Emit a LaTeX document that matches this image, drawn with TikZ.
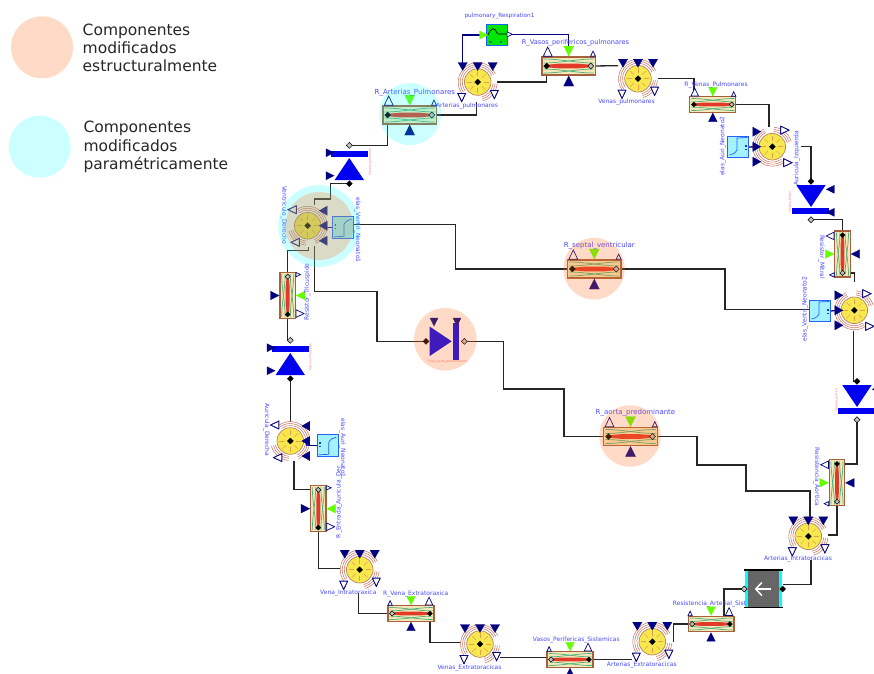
\documentclass[tikz,border=0pt]{standalone}
\usepackage{fontspec}
\setmainfont{DejaVu Sans}
\usetikzlibrary{backgrounds}

\definecolor{navyport}{HTML}{000080}
\definecolor{lblblue}{HTML}{4848FF}
\definecolor{ringred}{HTML}{C87868}
\definecolor{chamberyellow}{HTML}{F7E850}
\definecolor{spokeorange}{HTML}{E8A048}
\definecolor{boxcream}{HTML}{F6E8B8}
\definecolor{boxbrown}{HTML}{A8603C}
\definecolor{bandred}{HTML}{E23A28}
\definecolor{mixgreen}{HTML}{4CB080}
\definecolor{limeport}{HTML}{66FF00}
\definecolor{elascyan}{HTML}{A4F2FF}
\definecolor{elasblue}{HTML}{2060FF}
\definecolor{valveblue}{HTML}{0000F0}
\definecolor{peachmark}{RGB}{255,110,30}
\definecolor{cyanmark}{RGB}{0,255,255}
\definecolor{respgreen}{RGB}{0,230,0}
\definecolor{respdot}{RGB}{0,130,130}
\definecolor{redlbl}{HTML}{FF7070}

\newcommand{\dia}[3]{\draw[#1] (#2-3,#3) -- (#2,#3-3) -- (#2+3,#3) -- (#2,#3+3) -- cycle;}
\newcommand{\trig}[6]{\draw[#1,shift={(#2,#3)},rotate=#4] (-#5,-#6) -- (#5,-#6) -- (0,#6) -- cycle;}

\tikzset{
  wire/.style={draw=black!85, line width=1.3pt},
  sigwire/.style={draw=navyport, line width=1.3pt},
  solidport/.style={fill=navyport, draw=navyport, line width=.3pt},
  openport/.style={fill=white, draw=navyport, line width=.7pt},
  limetri/.style={fill=limeport, draw=limeport, line width=.3pt},
  portblack/.style={fill=black, draw=black, line width=.3pt},
  portgrey/.style={fill=black!25, draw=black, line width=.5pt},
  ringline/.style={draw=ringred, line width=.55pt},
  lbl/.style={text=lblblue, inner sep=0pt, font=\fontsize{6}{7}\selectfont},
  midlbl/.style={text=lblblue, inner sep=0pt, font=\fontsize{6.6}{8}\selectfont},
  biglbl/.style={text=lblblue, inner sep=0pt, font=\fontsize{7}{8}\selectfont},
  redtag/.style={text=redlbl, inner sep=0pt, font=\fontsize{3}{4}\selectfont},
  legendtxt/.style={anchor=west, align=left, inner sep=0pt, text=black!85, font=\fontsize{15.5}{18.3}\selectfont},
  peachspot/.style={circle, inner sep=0pt, minimum size=#1, fill=peachmark, opacity=.25},
  cyanspot/.style={circle, inner sep=0pt, minimum size=#1, fill=cyanmark, opacity=.2},
  chamber/.pic={
    \foreach \r in {15.5,17.5,19.5} {
      \draw[ringline] (25:\r pt) arc[start angle=25, end angle=215, radius=\r pt];
      \draw[ringline] (-75:\r pt) arc[start angle=-75, end angle=-5, radius=\r pt];
    }
    \draw[fill=chamberyellow, draw=boxbrown!80, line width=.7pt] (0,0) circle[radius=13.3pt];
    \foreach \a in {0,45,...,315}
      \draw[draw=spokeorange, line width=.5pt] (\a:6pt) -- (\a:11pt);
    \dia{portblack}{0}{0}
    \foreach \dx in {-15,0,15}
      \trig{solidport}{\dx}{-15.5}{0}{4.6}{4}
    \trig{openport}{-16}{15.5}{0}{3.8}{4}
    \trig{openport}{16.6}{12.5}{0}{3.8}{4}
    \coordinate (-c) at (0,0);
    \coordinate (-t1) at (-15,-16);
    \coordinate (-t2) at (0,-16);
  },
  resist/.pic={
    \draw[fill=boxcream, draw=boxbrown, line width=1.1pt] (-26.7,-9) rectangle (26.7,9);
    \foreach \s in {-1,1} {
      \draw[draw=mixgreen, line width=.7pt] (-25,\s*7) .. controls (-8,\s*7) and (8,\s*3) .. (25,\s*3);
      \draw[draw=mixgreen, line width=.7pt] (-25,\s*3) .. controls (-8,\s*3) and (8,\s*7) .. (25,\s*7);
    }
    \fill[bandred] (-22,-1.2) -- (-10,-2.3) -- (10,-2.3) -- (22,-1.2) -- (22,1.2) -- (10,2.3) -- (-10,2.3) -- (-22,1.2) -- cycle;
    \dia{portblack}{-22}{0}
    \dia{portgrey}{22}{0}
    \trig{limetri}{0}{-15}{0}{5}{5}
    \trig{solidport}{0}{15}{180}{5}{5}
    \trig{openport}{-21}{-14.4}{180}{4.4}{4.6}
    \trig{openport}{24.3}{-12.3}{180}{2.5}{2.6}
    \coordinate (-l) at (-22,0);
    \coordinate (-r) at (22,0);
    \coordinate (-g) at (0,-13);
  },
  valve/.pic={
    \fill[valveblue] (-18.3,-14) rectangle (18.7,-8.3);
    \fill[valveblue] (0,-7) -- (14.7,15) -- (-14.7,15) -- cycle;
    \trig{solidport}{-19.3}{-12.3}{90}{4}{4}
    \trig{solidport}{-19.3}{10.7}{90}{4}{4}
    \dia{portgrey}{0}{-19.7}
    \dia{portblack}{0}{18.7}
    \coordinate (-a) at (0,-19.7);
    \coordinate (-b) at (0,18.7);
  },
  elas/.pic={
    \draw[fill=elascyan, draw=elasblue, line width=.9pt] (-10.7,-10.7) rectangle (10.7,10.7);
    \draw[draw=elasblue, line width=.7pt] (-8.5,8) .. controls (-5,8) and (-3,6) .. (-1,3) -- (-1,-9) -- (9,-9.5);
    \fill[elasblue!70!black] (7,-2) rectangle (8.5,-.5);
    \fill[elasblue!70!black] (7,1.5) rectangle (8.5,3);
    \coordinate (-w) at (-10.7,0);
    \coordinate (-e) at (10.7,0);
  },
  respbox/.pic={
    \draw[fill=respgreen, draw=elasblue, line width=1pt] (-10.3,-10.3) rectangle (10.3,10);
    \draw[draw=black, line width=.7pt] (-9,0) .. controls (-6,-8) and (-2,-8) .. (0,-2) -- (1,-1) -- (10,-1);
    \fill[respdot] (-8,6) rectangle (-5.5,8);
    \fill[respdot] (2.5,6) rectangle (5,8);
    \trig{limetri}{-13.5}{0}{90}{4}{4}
    \trig{openport}{12.7}{-.7}{90}{2.6}{2.6}
    \coordinate (-i) at (-13.5,0);
    \coordinate (-o) at (12.7,-.7);
  },
  gatebox/.pic={
    \fill[cyanmark] (-18.5,-18) rectangle (18.5,18);
    \fill[black!60] (-15.5,-18) rectangle (15.5,18);
    \draw[black, line width=1.4pt] (-19.5,-19) -- (19.5,-19);
    \draw[black, line width=1.4pt] (-19.5,18.7) -- (19.5,18.7);
    \draw[white, line width=1.5pt] (7,0) -- (-8,0);
    \draw[white, line width=1.5pt] (-2,-6.5) -- (-8,0) -- (-2,6.5);
    \dia{portgrey}{-19.5}{0}
    \dia{portblack}{18.9}{0}
    \coordinate (-l) at (-19.5,0);
    \coordinate (-r) at (18.9,0);
  }
}

\begin{document}
\begin{tikzpicture}[x=1pt, y=-1pt]
\useasboundingbox (0,0) rectangle (874,673);

\pic (artpul) at (477.7,82) {chamber};
\pic (venpul) at (638,78.7) {chamber};
\pic[rotate=90] (auriz) at (772.3,146.7) {chamber};
\pic[rotate=90] (ventiz) at (854.3,310.3) {chamber};
\pic (artint) at (808.3,536.3) {chamber};
\pic (artext) at (652.3,641.7) {chamber};
\pic (venext) at (480,644) {chamber};
\pic (venint) at (359.7,569.7) {chamber};
\pic[rotate=-90] (aurder) at (290.3,441) {chamber};
\pic[rotate=-90] (ventder) at (307.7,225.7) {chamber};

\pic (rartpul) at (409.7,115) {resist};
\pic (rvasos) at (568.7,66) {resist};
\pic[scale=.86] (rvenpul) at (712.8,104.5) {resist};
\pic[scale=.86,rotate=90,xscale=-1] (rmitral) at (842.5,254) {resist};
\pic[scale=.86,rotate=90,xscale=-1] (raortica) at (837,482.8) {resist};
\pic[scale=.86,rotate=-90,xscale=-1] (rtricus) at (287.7,295.5) {resist};
\pic[scale=.86,rotate=-90,xscale=-1] (rentrada) at (318.3,508.7) {resist};
\pic[scale=.86,xscale=-1] (rvenext) at (411,613.5) {resist};
\pic[scale=.86,xscale=-1] (rvasper) at (570,659.5) {resist};
\pic[scale=.86,xscale=-1] (rartsis) at (711,624) {resist};
\pic (rseptal) at (594.3,269) {resist};
\pic (raorta) at (630.5,436.5) {resist};

\pic (vpul) at (349.3,165) {valve};
\pic[rotate=180] (vmit) at (811,200) {valve};
\pic[rotate=180] (vaor) at (857,400) {valve};
\pic (vtri) at (290.3,360) {valve};
\pic[rotate=-90] (vflujo) at (444.7,341.3) {valve};

\pic (eauri2) at (738,147) {elas};
\pic (eventri2) at (820,311) {elas};
\pic[rotate=180] (eauri1) at (327.7,445.3) {elas};
\pic[rotate=180] (eventri1) at (343,227.3) {elas};

\pic (resp) at (497,35) {respbox};
\pic (gate) at (763.8,589) {gatebox};

\begin{pgfonlayer}{background}
\draw[sigwire] (resp-o) -| (rvasos-g);
\draw[sigwire] (resp-i) -| (artpul-t1);
\draw[sigwire] (eauri2-e) -- (auriz-t2);
\draw[sigwire] (eventri2-e) -- (ventiz-t2);
\draw[sigwire] (eauri1-e) -| (aurder-t2);
\draw[sigwire] (eventri1-e) -| (ventder-t2);
\draw[wire] (artpul-c) ++(19.5,0) -| (rvasos-l);
\draw[wire] (venpul-c) ++(-20,-13) -- (rvasos-r);
\draw[wire] (venpul-c) ++(20,0) -| (rvenpul-l);
\draw[wire] (auriz-c) ++(-3.3,-20) |- (rvenpul-r);
\draw[wire] (auriz-c) ++(28.7,0) -| (vmit-b);
\draw[wire] (vmit-a) -| (rmitral-l);
\draw[wire] (ventiz-c) ++(0,-28.7) |- (rmitral-r);
\draw[wire] (ventiz-c) ++(-.6,20.4) |- (vaor-b);
\draw[wire] (vaor-a) |- (raortica-l);
\draw[wire] (artint-c) ++(20,-1.3) -| (raortica-r);
\draw[wire] (gate-r) ++(0,-4.7) -| ++(28.3,-24.3);
\draw[wire] (gate-l) -| ++(-20.3,27.7);
\draw[wire] (artext-c) ++(21,0) |- (rartsis-r);
\draw[wire] (artext-c) ++(-20,17.8) -- (rvasper-l);
\draw[wire] (venext-c) ++(20,13.7) -- ++(47,0);
\draw[wire] (venext-c) ++(-19.3,-1.3) -| (rvenext-l);
\draw[wire] (venint-c) ++(-1.4,23) |- (rvenext-r);
\draw[wire] (venint-c) ++(-19.7,-1.4) -| (rentrada-l);
\draw[wire] (aurder-c) ++(3.7,20) |- (rentrada-r);
\draw[wire] (aurder-c) ++(0,-19.3) -- (vtri-b);
\draw[wire] (vtri-a) -| (rtricus-l);
\draw[wire] (rtricus-r) |- ++(20.7,-26) -- ++(0,-4);
\draw[wire] (ventder-c) ++(6.7,-20.7) |- ++(16,-6) |- (vpul-b);
\draw[wire] (vpul-a) -| (rartpul-l);
\draw[wire] (artpul-c) ++(-1,19.7) |- (rartpul-r);
\draw[wire] (ventder-c) ++(7,20.3) |- ++(62.3,45.7) |- (vflujo-b);
\draw[wire] (vflujo-a) -| ++(39.3,47.7) -| ++(60.3,20) |- (raorta-l);
\draw[wire] (raorta-r) -| ++(44.5,28.5) -| ++(49,26) -| ++(64,25.7);
\draw[wire] (eventri1-w) ++(0,-2.6) -| ++(101.7,20) |- (rseptal-l);
\draw[wire] (eventri2-w) ++(0,-1.7) -| ++(-84.3,-20) |- (rseptal-r);
\end{pgfonlayer}

\node[lbl,font=\fontsize{5.75}{7}\selectfont] (tresp) at (499.5,16) {pulmonary\_Respiration1};
\node[midlbl] (tvasos) at (575.5,42.5) {R\_Vasos\_perifericos\_pulmonares};
\node[biglbl] (trartpul) at (414.8,92.3) {R\_Arterias\_Pulmonares};
\node[lbl] (tartpul) at (467,105.7) {Arterias\_pulmonares};
\node[lbl] (tvenpul) at (626.5,101.7) {Venas\_pulmonares};
\node[lbl] (trvenpul) at (716,84.7) {R\_Venas\_Pulmonares};
\node[lbl,rotate=90] (teauri2) at (722.7,146) {elas\_Auri\_Neonato2};
\node[lbl,rotate=90] (tauriz) at (796.7,158.3) {Auricula\_Izquierda};
\node[lbl,rotate=-90] (trmitral) at (821.7,257) {Resistor\_Mitral};
\node[lbl,rotate=90] (teventri2) at (805,309) {elas\_Ventri\_Neonato2};
\node[lbl,rotate=-90] (traortica) at (816.7,477) {Resistencia\_Aortica};
\node[lbl] (tartint) at (798,559.3) {Arterias\_Intratoracicas};
\node[lbl] (trartsis) at (709.5,603.7) {Resistencia\_Arterial\_Sist};
\node[lbl] (tartext) at (641.8,664.7) {Arterias\_Extratoracicas};
\node[lbl] (tvasper) at (576.3,639.7) {Vasos\_Perifericas\_Sistemicas};
\node[lbl] (tvenext) at (469.5,667.7) {Venas\_Extratoracicas};
\node[lbl] (trvenext) at (415.8,593.7) {R\_Vena\_Extratoraxica};
\node[lbl] (tvenint) at (348.3,592.7) {Vena\_Intratoraxica};
\node[lbl,rotate=90] (trentrada) at (339,502) {R\_Entrada\_Auricula\_Der};
\node[lbl,rotate=-90] (teauri1) at (342.7,448) {elas\_Auri\_Neonato1};
\node[lbl,rotate=-90] (taurder) at (266.7,430) {Auricula\_Derecha};
\node[lbl,rotate=90] (trtricus) at (307.3,292) {Resistor\_Tricuspide};
\node[lbl,rotate=-90] (tventder) at (284,215.3) {Ventriculo\_Derecho};
\node[lbl,rotate=-90] (teventri1) at (357.7,230) {elas\_Ventri\_Neonato1};
\node[biglbl] (trseptal) at (599.3,245.7) {R\_septal\_ventricular};
\node[biglbl] (traorta) at (635.5,412.3) {R\_aorta\_predominante};

\node[redtag,rotate=90] (tvpul) at (370,162) {Valvula\_pulmonar};
\node[redtag,rotate=90] (tvmit) at (790,202) {Valvula\_Mitral};
\node[redtag,rotate=90] (tvaor) at (836.5,400) {Valvula\_aortica};
\node[redtag,rotate=90] (tvtri) at (310.7,357) {Valvula\_Tricuspide};
\node[redtag] (tvflujo) at (447.8,361.7) {Flujo\_aorto\_predominante};

\node[cyanspot=62pt] (mrartpul) at (410,114) {};
\node[cyanspot=82pt] (mventc) at (319.3,226) {};
\node[peachspot=68pt] (mventp) at (319.3,226) {};
\node[peachspot=61.5pt] (mrseptal) at (594,268.7) {};
\node[peachspot=61.5pt] (mraorta) at (630,436) {};
\node[peachspot=62.5pt] (mvflujo) at (445.3,339.3) {};

\node[peachspot=62pt] (legpeach) at (42,47.3) {};
\node[cyanspot=62pt] (legcyan) at (39.7,146.7) {};
\node[legendtxt] (legtxta) at (82.5,48) {Componentes\\modificados\\estructuralmente};
\node[legendtxt] (legtxtb) at (83.3,147) {Componentes\\modificados\\paramétricamente};
\end{tikzpicture}
\end{document}
